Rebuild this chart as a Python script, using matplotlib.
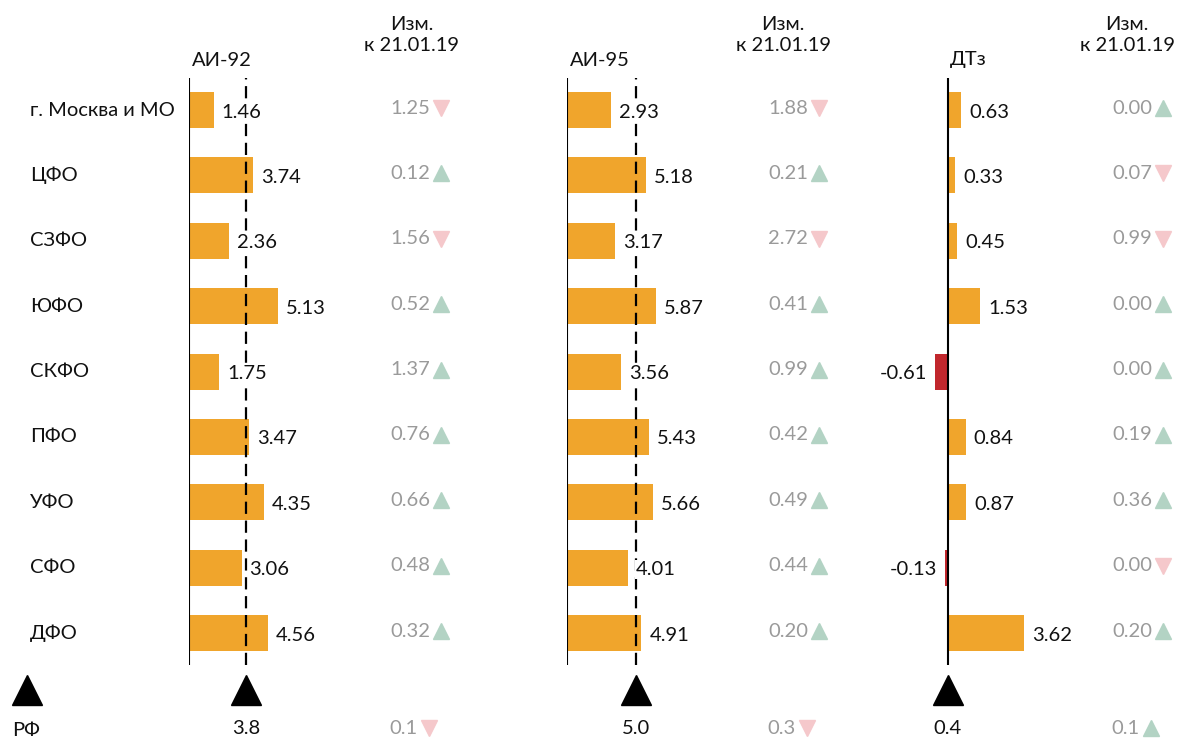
import numpy as np
import matplotlib
matplotlib.use("Agg")
import matplotlib.pyplot as plt
from matplotlib.transforms import blended_transform_factory

plt.rcParams['font.family'] = ['Lato', 'DejaVu Sans']

regions = ['г. Москва и МО', 'ЦФО', 'СЗФО', 'ЮФО', 'СКФО', 'ПФО', 'УФО', 'СФО', 'ДФО']
fuels = ['АИ-92', 'АИ-95', 'ДТз']
ai92 = [1.46, 3.74, 2.36, 5.13, 1.75, 3.47, 4.35, 3.06, 4.56]
ai92_chg = [1.25, 0.12, 1.56, 0.52, 1.37, 0.76, 0.66, 0.48, 0.32]
ai92_dir = ['down', 'up', 'down', 'up', 'up', 'up', 'up', 'up', 'up']
ai95 = [2.93, 5.18, 3.17, 5.87, 3.56, 5.43, 5.66, 4.01, 4.91]
ai95_chg = [1.88, 0.21, 2.72, 0.41, 0.99, 0.42, 0.49, 0.44, 0.20]
ai95_dir = ['down', 'up', 'down', 'up', 'up', 'up', 'up', 'up', 'up']
dt = [0.63, 0.33, 0.45, 1.53, -0.61, 0.84, 0.87, -0.13, 3.62]
dt_chg = [0.00, 0.07, 0.99, 0.00, 0.00, 0.19, 0.36, 0.00, 0.20]
dt_dir = ['up', 'down', 'down', 'up', 'up', 'up', 'up', 'down', 'up']
rf_label = 'РФ'
rf_values = [3.8, 5.0, 0.4]
rf_chg = [0.1, 0.3, 0.1]
rf_dir = ['down', 'down', 'up']
# reference (mean) marker positions on each scale
marker_pos = [float(np.mean(ai92)), float(np.mean(ai95)), 0.0]
show_dash = [True, True, False]
chg_header = 'Изм.\nк 21.01.19'

values = [ai92, ai95, dt]
changes = [ai92_chg, ai95_chg, dt_chg]
dirs = [ai92_dir, ai95_dir, dt_dir]

W, H = 1180, 740
fig = plt.figure(figsize=(W / 100, H / 100), dpi=100)

ORANGE = '#f0a52c'
RED = '#c1272d'
GREY = '#9a9a9a'
UP = '#b3d3c4'
DOWN = '#f5c8cb'
FS = 14.5
TXT = '#111111'

# overlay axes in pixel space for layout text
ov = fig.add_axes([0, 0, 1, 1])
ov.set_xlim(0, W)
ov.set_ylim(H, 0)
ov.axis('off')

top_px, bot_px = 78, 665
row0, rowstep = 110, 65.4
n = len(regions)
panel_zero = [188.5, 567, 948]
panel_width = 89
chg_right = [430, 808, 1152]
chg_head_x = [412, 783, 1127]
head_x = [222, 600, 968]

for i, lab in enumerate(regions):
    ov.text(30, row0 + i * rowstep, lab, fontsize=FS, ha='left', va='center', color=TXT)

# RF row
ov.plot([27], [690], marker='^', color='black', markersize=21, linestyle='none')
ov.text(12, 730, rf_label, fontsize=FS, ha='left', va='center', color=TXT)

ylo = -(row0 - top_px) / rowstep
yhi = (n - 1) + (bot_px - (row0 + (n - 1) * rowstep)) / rowstep

for p in range(3):
    vals = values[p]
    vmin = min(0, min(vals))
    vmax = max(vals)
    scale = panel_width / (vmax - vmin)
    left_px = panel_zero[p] + vmin * scale
    ax = fig.add_axes([left_px / W, 1 - bot_px / H, panel_width / W, (bot_px - top_px) / H])
    ax.set_xlim(vmin, vmax)
    ax.set_ylim(yhi, ylo)
    ax.axis('off')
    ax.patch.set_alpha(0)
    y = np.arange(n)
    cols = [ORANGE if v >= 0 else RED for v in vals]
    ax.barh(y, vals, height=0.55, color=cols, zorder=2)
    ax.axvline(0, color='black', lw=1.5, zorder=3)
    if show_dash[p]:
        ax.axvline(marker_pos[p], color='black', lw=1.6, ls=(0, (5.5, 3)), zorder=4)
    for yi, v in zip(y, vals):
        off = 8 if v >= 0 else -8
        ax.annotate(f'{v:.2f}', (v, yi), xytext=(off, -2), textcoords='offset pixels',
                    ha='left' if v >= 0 else 'right', va='center', fontsize=FS, color=TXT,
                    annotation_clip=False, zorder=6,
                    bbox=dict(boxstyle='square,pad=0.05', fc='white', ec='none'))
    tr = blended_transform_factory(ax.transData, fig.transFigure)
    ax.plot([marker_pos[p]], [1 - 690 / H], marker='^', color='black', markersize=21,
            transform=tr, clip_on=False, linestyle='none')
    ax.text(marker_pos[p], 1 - 728 / H, f'{rf_values[p]:.1f}', transform=tr, ha='center',
            va='center', fontsize=FS, color=TXT)
    # headers
    ov.text(head_x[p], 60, fuels[p], fontsize=FS, ha='center', va='center', color=TXT)
    ov.text(chg_head_x[p], 35, chg_header, fontsize=FS, ha='center', va='center',
            color=TXT, linespacing=1.35)
    # change column
    for i in range(n):
        yy = row0 + i * rowstep - 2
        ov.text(chg_right[p], yy, f'{changes[p][i]:.2f}', fontsize=FS, ha='right', va='center', color=GREY)
        d = dirs[p][i]
        ov.plot([chg_right[p] + 11], [yy], marker='^' if d == 'up' else 'v',
                color=UP if d == 'up' else DOWN, markersize=11, linestyle='none')
    yy = 728
    ov.text(chg_right[p] - 12, yy, f'{rf_chg[p]:.1f}', fontsize=FS, ha='right', va='center', color=GREY)
    d = rf_dir[p]
    ov.plot([chg_right[p] - 1], [yy], marker='^' if d == 'up' else 'v',
            color=UP if d == 'up' else DOWN, markersize=11, linestyle='none')

fig.savefig('out.png', dpi=100)
